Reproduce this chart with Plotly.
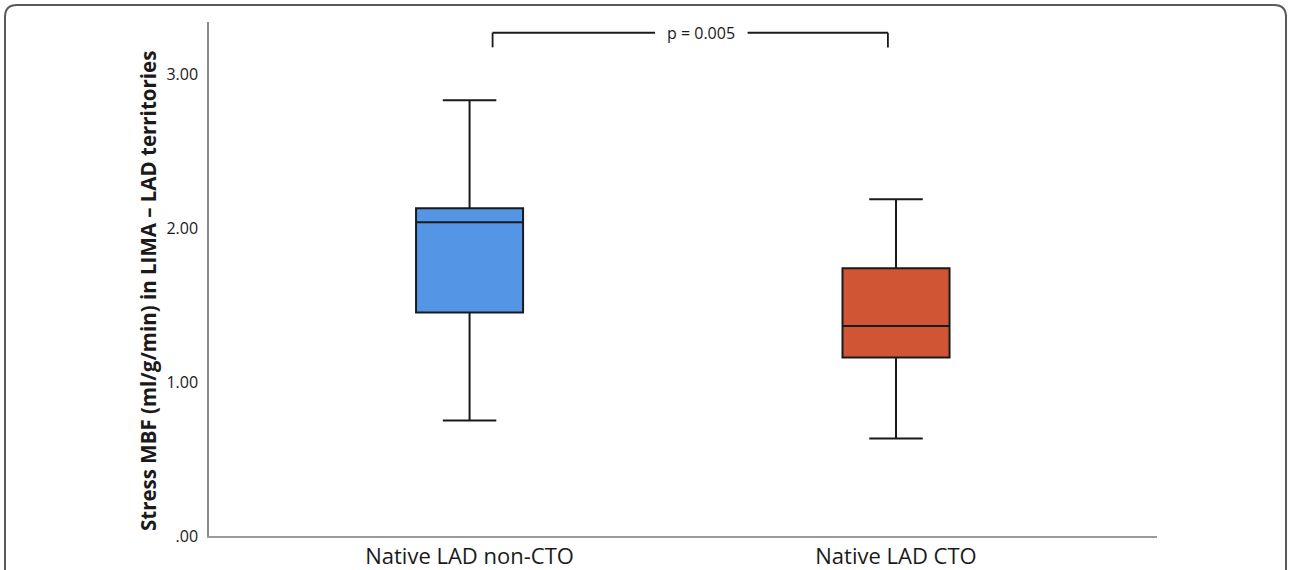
import plotly.graph_objects as go

categories = ["Native LAD non-CTO", "Native LAD CTO"]
lower_whisker = [0.751, 0.634]
q1_values = [1.453, 1.160]
medians = [2.039, 1.364]
q3_values = [2.130, 1.740]
upper_whisker = [2.831, 2.188]
box_colors = ["#5595E5", "#D05535"]

y_title = "Stress MBF (ml/g/min) in LIMA – LAD territories"
y_tickvals = [0, 1, 2, 3]
y_ticktext = [".00", "1.00", "2.00", "3.00"]
p_label = "p = 0.005"

fig = go.Figure()
for i, cat in enumerate(categories):
    fig.add_trace(go.Box(
        x=[cat],
        lowerfence=[lower_whisker[i]],
        q1=[q1_values[i]],
        median=[medians[i]],
        q3=[q3_values[i]],
        upperfence=[upper_whisker[i]],
        fillcolor=box_colors[i],
        line=dict(color="#1a1a1a", width=2),
        width=0.251,
        whiskerwidth=0.5,
        boxpoints=False,
        showlegend=False,
        hoverinfo="y",
    ))

# significance bracket
yb_top = 3.27
yb_bot = 3.175
xl, xr = 0.054, 0.981
gap_l, gap_r = 0.435, 0.652
line_style = dict(color="#1a1a1a", width=1.8)
shapes = [
    dict(type="line", xref="x", yref="y", x0=xl, x1=xl, y0=yb_bot, y1=yb_top, line=line_style),
    dict(type="line", xref="x", yref="y", x0=xl, x1=gap_l, y0=yb_top, y1=yb_top, line=line_style),
    dict(type="line", xref="x", yref="y", x0=gap_r, x1=xr, y0=yb_top, y1=yb_top, line=line_style),
    dict(type="line", xref="x", yref="y", x0=xr, x1=xr, y0=yb_top, y1=yb_bot, line=line_style),
]

# rounded outer frame (paper coords relative to plot area)
W, H = 1290, 570
ml, mr, mt, mb = 209, 133, 22, 34
pw, ph = W - ml - mr, H - mt - mb
def px(xp):
    return (xp - ml) / pw
def py(yp):
    return (H - mb - yp) / ph
r = 12
x0f, x1f, ytf, ybf = px(5), px(1286), py(5), py(600)
rx, ry = r / pw, r / ph
frame_path = (f"M {x0f},{ybf} L {x0f},{ytf - ry} Q {x0f},{ytf} {x0f + rx},{ytf} "
              f"L {x1f - rx},{ytf} Q {x1f},{ytf} {x1f},{ytf - ry} L {x1f},{ybf}")
shapes.append(dict(type="path", xref="paper", yref="paper", path=frame_path,
                   line=dict(color="#5a5a5a", width=2)))

fig.update_layout(
    width=W, height=H,
    margin=dict(l=ml, r=mr, t=mt, b=mb, autoexpand=False),
    paper_bgcolor="white",
    plot_bgcolor="white",
    font=dict(family="Open Sans, sans-serif", color="#1a1a1a"),
    shapes=shapes,
    annotations=[
        dict(x=0.5435, y=yb_top, xref="x", yref="y", text=p_label,
             showarrow=False, font=dict(size=16, color="#1a1a1a")),
        dict(x=px(148), y=py(291), xref="paper", yref="paper", text=f"<b>{y_title}</b>",
             textangle=-90, showarrow=False, xanchor="center", yanchor="middle",
             font=dict(size=20.5, color="#1a1a1a")),
    ],
    xaxis=dict(
        type="category",
        range=[-0.611, 1.612],
        automargin=False,
        showline=True, linecolor="#9a9a9a", linewidth=2,
        showgrid=False, zeroline=False, ticks="",
        tickfont=dict(size=22, color="#1a1a1a"),
    ),
    yaxis=dict(
        range=[0, 3.34],
        automargin=False,
        tickvals=y_tickvals, ticktext=y_ticktext,
        showline=True, linecolor="#8a8a8a", linewidth=1.5,
        showgrid=False, zeroline=False, ticks="",
        ticklabelstandoff=6,
        tickfont=dict(size=16, color="#1a1a1a"),
    ),
)

fig.write_html("out.html", config={"displayModeBar": False},
               post_script="document.body.style.margin='0px';")
